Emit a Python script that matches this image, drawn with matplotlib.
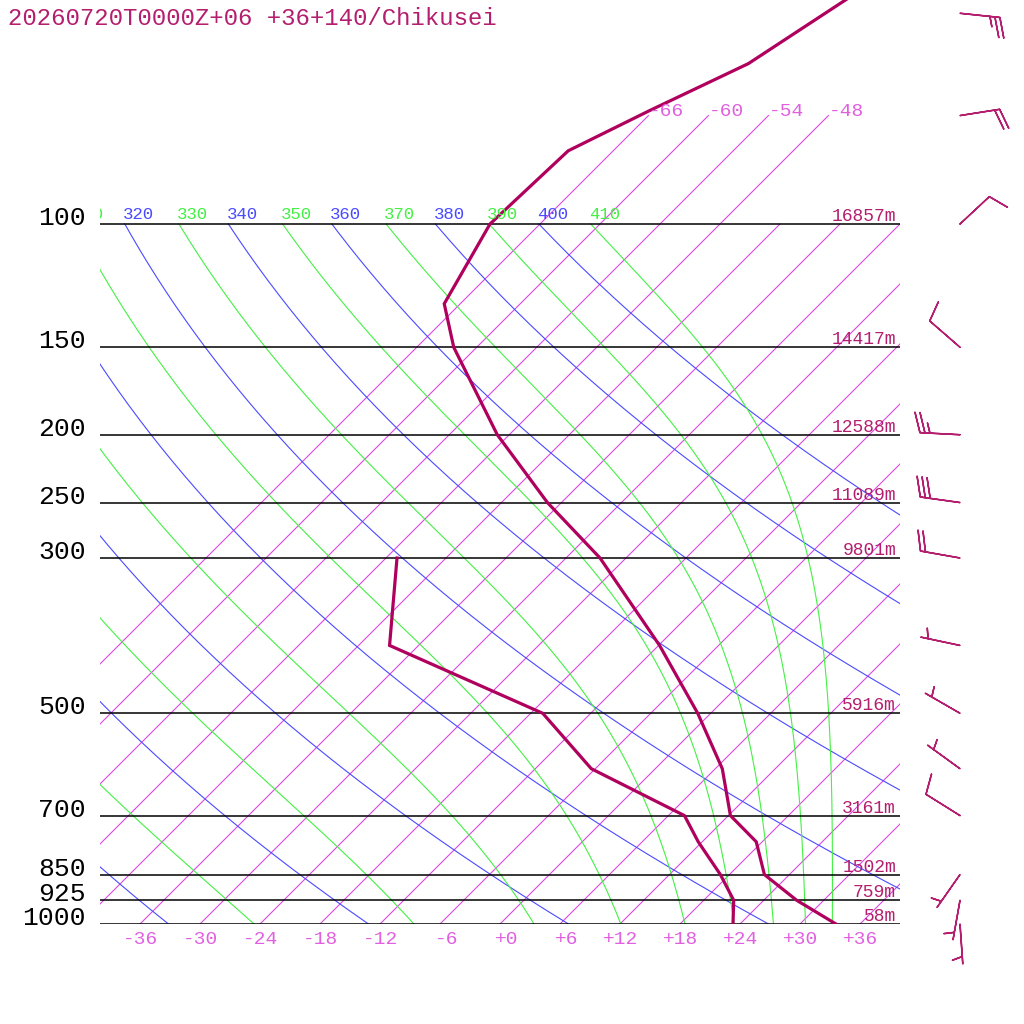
import numpy as np
import matplotlib
matplotlib.use("Agg")
import matplotlib.pyplot as plt
from matplotlib.transforms import offset_copy

title = "20260720T0000Z+06 +36+140/Chikusei"

# standard levels and heights
levels = [1000, 925, 850, 700, 500, 300, 250, 200, 150, 100]
heights = ["58m", "759m", "1502m", "3161m", "5916m", "9801m",
           "11089m", "12588m", "14417m", "16857m"]

# temperature profile (hPa, degC)
temp_p = [1000, 925, 850, 763, 700, 600, 500, 400, 300, 250, 200, 150,
          130, 100, 78.6, 68.9, 59.0, 44.8]
temp_t = [33.6, 27.3, 21.5, 17.4, 12.2, 6.7, -1.3, -11.9, -26.6, -37.4,
          -49.2, -62.3, -67.6, -71.0, -70.5, -66.4, -61.2, -56.8]

# dew point profile
dew_p = [1000, 925, 850, 763, 700, 600, 500, 400, 300]
dew_t = [23.3, 21.0, 17.1, 11.6, 7.6, -6.4, -16.8, -38.9, -46.9]

# wind (direction from, speed)
wind_p = [50, 70, 100, 150, 200, 250, 300, 400, 500, 600, 700, 850, 925, 1000]
wind_dir = [96, 81, 47, 311, 273, 278, 280, 282, 300, 306, 302, 215, 190, 176]
wind_spd = [25, 20, 10, 10, 25, 30, 20, 5, 5, 5, 10, 5, 5, 5]

isotherms = list(range(-66, 37, 6))
top_isotherms = [-66, -60, -54, -48]
bottom_labels = list(range(-36, 37, 6))
dry_theta = list(range(240, 401, 20))
moist_thetae = list(range(250, 411, 20))

C_CURVE = "#b0005e"
C_TEXT = "#b41e6e"
C_ISO = "#dc48e4"
C_ISO_TXT = "#e060e0"
C_DRY = "#4a4aff"
C_MOIST = "#44f044"


def skx(t, p):
    return np.asarray(t) + 70.0 * np.log10(1000.0 / np.asarray(p))


def thetae_sat(tk, p):
    tc = tk - 273.15
    es = 6.112 * np.exp(17.67 * tc / (tc + 243.5))
    r = 622.0 * es / (p - es)
    return (tk * (1000.0 / p) ** (0.2854 * (1 - 0.00028 * r))
            * np.exp((3.376 / tk - 0.00254) * r * (1 + 0.00081 * r)))


def moist_t(te, p):
    lo = np.full_like(p, 150.0)
    hi = np.full_like(p, 310.0)
    with np.errstate(all="ignore"):
        for _ in range(60):
            mid = 0.5 * (lo + hi)
            up = thetae_sat(mid, p) > te
            hi = np.where(up, mid, hi)
            lo = np.where(up, lo, mid)
    return 0.5 * (lo + hi) - 273.15


fig = plt.figure(figsize=(10.24, 10.24), dpi=100)
ax = fig.add_axes([100 / 1024, 100 / 1024, 800 / 1024, 924 / 1024])
ax.set_yscale("log")
p_top = 1000.0 / 10 ** (924 / 700)
ax.set_xlim(-40, 40)
ax.set_ylim(1000, p_top)
ax.axis("off")

pp = np.logspace(3, 2, 300)

# isotherms
for t in isotherms:
    ptop = 70 if t in top_isotherms else 100
    ax.plot(skx([t, t], [1000, ptop]), [1000, ptop], color=C_ISO, lw=0.8)
for t in top_isotherms:
    ax.text(skx(t, 70), 70, "%d" % t, color=C_ISO_TXT, fontsize=14,
            family="Liberation Mono", ha="left", va="baseline")

# dry / moist adiabats, labelled at 100 hPa (labels cut at the frame)
lab_tr = offset_copy(ax.transData, fig=fig, x=-2, y=5, units="dots")


def adiabat(tt, val, col):
    ax.plot(skx(tt, pp), pp, color=col, lw=0.8)
    x100 = skx(tt[-1], 100)
    if x100 > -44:
        ax.text(x100, 100, str(val), color=col, fontsize=12.5,
                family="Liberation Mono", ha="left", va="baseline",
                transform=lab_tr, clip_on=True)


for th in dry_theta:
    adiabat(th * (pp / 1000.0) ** 0.286 - 273.15, th, C_DRY)
for te in moist_thetae:
    adiabat(moist_t(te, pp), te, C_MOIST)

# standard levels
ax.hlines(levels, -40, 40, color="black", lw=1.1)
p_tr = offset_copy(ax.transData, fig=fig, x=0, y=-1, units="dots")
h_tr = offset_copy(ax.transData, fig=fig, x=0, y=3, units="dots")
for p, h in zip(levels, heights):
    ax.text(-41.4, p, str(p), color="black", fontsize=19,
            family="Liberation Mono", ha="right", va="baseline", transform=p_tr)
    ax.text(39.6, p, h, color=C_TEXT, fontsize=13,
            family="Liberation Mono", ha="right", va="baseline", transform=h_tr)

# bottom temperature labels
b_tr = offset_copy(ax.transData, fig=fig, x=0, y=-20, units="dots")
for t in bottom_labels:
    ax.text(t + 1.8, 1000, "%+d" % t, color=C_ISO_TXT, fontsize=14,
            family="Liberation Mono", ha="right", va="baseline", transform=b_tr)

# profiles
ax.plot(skx(temp_t, temp_p), temp_p, color=C_CURVE, lw=2.3, solid_joinstyle="miter")
ax.plot(skx(dew_t, dew_p), dew_p, color=C_CURVE, lw=2.3, solid_joinstyle="miter")

# wind barbs
d = np.radians(wind_dir)
u = -np.array(wind_spd) * np.sin(d)
v = -np.array(wind_spd) * np.cos(d)
ax.barbs(np.full(len(wind_p), 46.0), wind_p, u, v, length=7.6, color=C_TEXT,
         linewidth=1.1, clip_on=False,
         sizes=dict(spacing=0.125, height=0.5, width=0.3),
         barb_increments=dict(half=5, full=10, flag=50))
ax.set_xlim(-40, 40)
ax.set_ylim(1000, p_top)

fig.text(8 / 1024, 1 - 25 / 1024, title, color=C_TEXT, fontsize=17.25,
         family="Liberation Mono", ha="left", va="baseline")

fig.savefig("out.png", dpi=100, facecolor="white")
